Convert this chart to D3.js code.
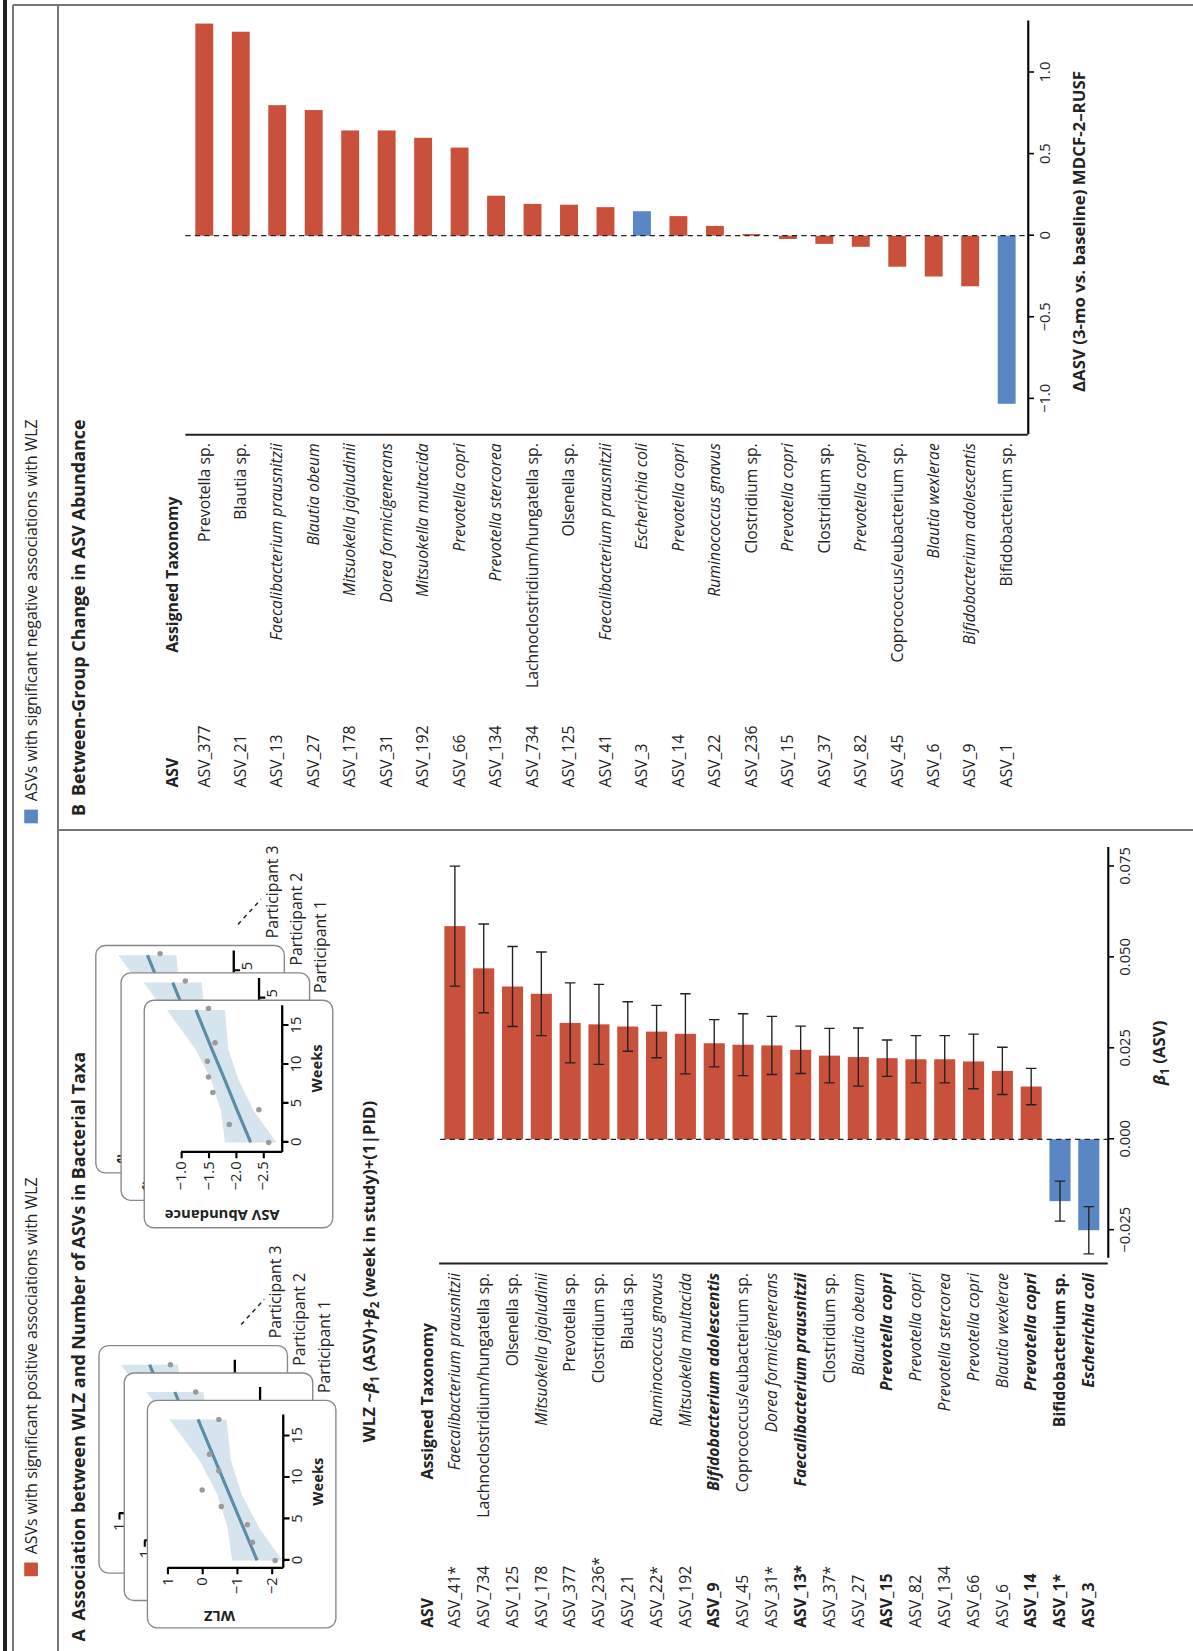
<!DOCTYPE html>
<html>
<head>
<meta charset="utf-8">
<script src="https://cdn.jsdelivr.net/npm/d3@7"></script>
<style>
  body { margin: 0; background: #fff; }
  text { font-family: "Open Sans", "Noto Sans", sans-serif; fill: #222; }
</style>
</head>
<body>
<svg id="fig" width="1193" height="1651"></svg>
<script>
// panel A: beta1 per ASV
const asvA = ["ASV_41*", "ASV_734", "ASV_125", "ASV_178", "ASV_377", "ASV_236*", "ASV_21", "ASV_22*", "ASV_192", "ASV_9", "ASV_45", "ASV_31*", "ASV_13*", "ASV_37*", "ASV_27", "ASV_15", "ASV_82", "ASV_134", "ASV_66", "ASV_6", "ASV_14", "ASV_1*", "ASV_3"]
const taxA = ["Faecalibacterium prausnitzii", "Lachnoclostridium/hungatella sp.", "Olsenella sp.", "Mitsuokella jajaludinii", "Prevotella sp.", "Clostridium sp.", "Blautia sp.", "Ruminococcus gnavus", "Mitsuokella multacida", "Bifidobacterium adolescentis", "Coprococcus/eubacterium sp.", "Dorea formicigenerans", "Faecalibacterium prausnitzii", "Clostridium sp.", "Blautia obeum", "Prevotella copri", "Prevotella copri", "Prevotella stercorea", "Prevotella copri", "Blautia wexlerae", "Prevotella copri", "Bifidobacterium sp.", "Escherichia coli"]
const boldA = ["ASV_9", "ASV_13*", "ASV_15", "ASV_14", "ASV_1*", "ASV_3"]
const betaA = [0.0586, 0.047, 0.042, 0.040, 0.032, 0.0316, 0.031, 0.0296, 0.029, 0.0264, 0.026, 0.0258, 0.0246, 0.023, 0.0226, 0.0223, 0.022, 0.022, 0.0214, 0.0188, 0.0145, -0.017, -0.025]
const errA = [0.0165, 0.0122, 0.011, 0.0115, 0.011, 0.011, 0.0068, 0.0072, 0.011, 0.0065, 0.0085, 0.008, 0.0065, 0.0075, 0.008, 0.005, 0.0065, 0.0065, 0.0075, 0.0065, 0.005, 0.0055, 0.0065]
const ticksA = [-0.025, 0, 0.025, 0.05, 0.075]

// panel B: between-group change
const asvB = ["ASV_377", "ASV_21", "ASV_13", "ASV_27", "ASV_178", "ASV_31", "ASV_192", "ASV_66", "ASV_134", "ASV_734", "ASV_125", "ASV_41", "ASV_3", "ASV_14", "ASV_22", "ASV_236", "ASV_15", "ASV_37", "ASV_82", "ASV_45", "ASV_6", "ASV_9", "ASV_1"]
const taxB = ["Prevotella sp.", "Blautia sp.", "Faecalibacterium prausnitzii", "Blautia obeum", "Mitsuokella jajaludinii", "Dorea formicigenerans", "Mitsuokella multacida", "Prevotella copri", "Prevotella stercorea", "Lachnoclostridium/hungatella sp.", "Olsenella sp.", "Faecalibacterium prausnitzii", "Escherichia coli", "Prevotella copri", "Ruminococcus gnavus", "Clostridium sp.", "Prevotella copri", "Clostridium sp.", "Prevotella copri", "Coprococcus/eubacterium sp.", "Blautia wexlerae", "Bifidobacterium adolescentis", "Bifidobacterium sp."]
const deltaB = [1.30, 1.25, 0.80, 0.77, 0.645, 0.645, 0.60, 0.54, 0.245, 0.195, 0.19, 0.175, 0.15, 0.12, 0.06, 0.01, -0.02, -0.05, -0.068, -0.19, -0.25, -0.31, -1.03]
const negB = ["ASV_3", "ASV_1"]
const ticksB = [-1, -0.5, 0, 0.5, 1]

// inset examples
const wlzWeeks = [17.0, 12.8, 10.8, 8.5, 6.5, 4.3, 2.2, 0]
const wlzVals = [-0.48, -0.21, -0.48, 0.0, -0.55, -1.3, -1.45, -2.1]
const wlzFitWeeks = [0, 4, 8, 12, 17]
const wlzFit = [-1.58, -1.18, -0.78, -0.38, 0.12]
const wlzBand = [0.72, 0.45, 0.35, 0.45, 0.82]
const asvWeeks = [17.2, 12.8, 10.4, 8.4, 6.4, 2.3, 4.2, 0]
const asvVals = [-1.5, -1.62, -1.48, -1.5, -1.58, -1.88, -2.42, -2.6]
const asvFit = [-2.27, -2.03, -1.8, -1.56, -1.27]
const asvBand = [0.47, 0.3, 0.25, 0.3, 0.53]

const RED = "#c9513b", BLUE = "#5b86c4"
const italicWords = ["prausnitzii", "jajaludinii", "gnavus", "multacida", "adolescentis", "formicigenerans", "obeum", "copri", "stercorea", "wexlerae", "coli"]

const svg = d3.select("#fig")

// frame lines (page coordinates)
svg.append("line").attr("x1", 5).attr("x2", 5).attr("y1", 0).attr("y2", 1651).attr("stroke", "#222").attr("stroke-width", 4)
const frame = [[13, 5, 13, 1651], [13, 5, 1193, 5], [58, 5, 58, 1651], [58, 830, 1193, 830]]
frame.forEach(f => svg.append("line").attr("x1", f[0]).attr("y1", f[1]).attr("x2", f[2]).attr("y2", f[3])
  .attr("stroke", "#777").attr("stroke-width", 2))

// everything else drawn in landscape and rotated
const g = svg.append("g").attr("transform", "translate(0,1651) rotate(-90) scale(1.053)")

function taxText(sel, name, bold) {
  const parts = name.split(" ")
  const sp = parts.length > 1 && italicWords.includes(parts[1])
  sel.attr("font-weight", bold ? "bold" : null)
  if (sp) sel.attr("font-style", "italic")
  sel.text(name)
}

// legend
g.append("rect").attr("x", 71).attr("y", 23).attr("width", 13).attr("height", 13).attr("fill", RED)
g.append("text").attr("x", 92).attr("y", 35).attr("font-size", 15).text("ASVs with significant positive associations with WLZ")
g.append("rect").attr("x", 786).attr("y", 23).attr("width", 13).attr("height", 13).attr("fill", BLUE)
g.append("text").attr("x", 807).attr("y", 35).attr("font-size", 15).text("ASVs with significant negative associations with WLZ")

// titles
g.append("text").attr("x", 9).attr("y", 81).attr("font-size", 17).attr("font-weight", "bold").text("A")
g.append("text").attr("x", 29).attr("y", 81).attr("font-size", 17).attr("font-weight", "bold").text("Association between WLZ and Number of ASVs in Bacterial Taxa")
g.append("text").attr("x", 793).attr("y", 81).attr("font-size", 17).attr("font-weight", "bold").text("B")
g.append("text").attr("x", 812).attr("y", 81).attr("font-size", 17).attr("font-weight", "bold").text("Between-Group Change in ASV Abundance")

// ---------- insets ----------
function inset(cx, cy, o) {
  const W = 216, H = 179
  const cards = [[52, -46], [26, -22], [0, 0]]
  cards.forEach((c, k) => {
    const x0 = cx + c[0], y0 = cy + c[1]
    const id = "clip" + o.id + k
    g.append("clipPath").attr("id", id).append("rect").attr("x", x0).attr("y", y0).attr("width", W).attr("height", H).attr("rx", 9)
    g.append("rect").attr("x", x0).attr("y", y0).attr("width", W).attr("height", H).attr("rx", 9)
      .attr("fill", "#fff").attr("stroke", "#888").attr("stroke-width", 1.3)
    const p = g.append("g").attr("clip-path", `url(#${id})`).append("g").attr("transform", `translate(${x0},${y0})`)
    const xs = d3.scaleLinear().domain([0, 15]).range([o.w0, o.w0 + 15 * o.pw])
    const ys = d3.scaleLinear().domain([o.v0, o.v0 - 1]).range([o.y0, o.y0 + o.pv])
    const area = d3.area().x((d, i) => xs(o.fw[i])).y0((d, i) => ys(d - o.band[i])).y1((d, i) => ys(d + o.band[i]))
    p.append("path").attr("d", area(o.fit)).attr("fill", "#d6e4ed")
    p.append("path").attr("d", d3.line().x((d, i) => xs(o.fw[i])).y(d => ys(d))(o.fit)).attr("stroke", "#5b8ea5").attr("stroke-width", 3).attr("fill", "none")
    p.selectAll("circle").data(o.pts).join("circle").attr("cx", d => xs(d[0])).attr("cy", d => ys(d[1])).attr("r", 2.6).attr("fill", "#9a9a9a")
    const ax = p.append("g").attr("transform", `translate(0,${o.axY})`)
      .call(d3.axisBottom(xs).tickValues([0, 5, 10, 15]).tickSize(6).tickSizeOuter(0))
    ax.select(".domain").attr("d", `M${o.axX},0H${xs(17.6)}`).attr("stroke-width", 2.2)
    ax.selectAll("line").attr("stroke-width", 2)
    ax.selectAll("text").attr("font-size", 14).attr("dy", "0.6em")
    p.append("text").attr("x", xs(9.5)).attr("y", o.axY + 38).attr("text-anchor", "middle").attr("font-size", 14).attr("font-weight", "bold").text("Weeks")
    const ay = p.append("g").attr("transform", `translate(${o.axX},0)`)
      .call(d3.axisLeft(ys).tickValues(o.ticks).tickFormat(o.fmt).tickSize(6).tickSizeOuter(0))
    ay.select(".domain").attr("d", `M0,${ys(o.ticks[0])}V${o.axY}`).attr("stroke-width", 2.2)
    ay.selectAll("line").attr("stroke-width", 2)
    ay.selectAll("text").attr("font-size", 14)
    p.append("text").attr("transform", `translate(${o.labX},${(ys(o.ticks[0]) + ys(o.ticks[o.ticks.length - 1])) / 2}) rotate(-90)`)
      .attr("text-anchor", "middle").attr("font-size", 14).attr("font-weight", "bold").text(o.label)
  })
  // participant labels
  ;[["Participant 1", 0], ["Participant 2", 1], ["Participant 3", 2]].forEach(d => {
    g.append("text").attr("x", cx + W + 7 + 26 * d[1]).attr("y", cy + H - 6 - 23 * d[1]).attr("font-size", 15).text(d[0])
  })
  g.append("line").attr("x1", cx + W + 72).attr("y1", cy + H - 90).attr("x2", cx + W + 96).attr("y2", cy + H - 68)
    .attr("stroke", "#222").attr("stroke-width", 1.4).attr("stroke-dasharray", "4,4")
}

inset(22, 140, {
  id: "w", w0: 64, pw: 7.88, axX: 57, axY: 129, v0: 1, y0: 19, pv: 33, labX: 16,
  ticks: [1, 0, -1, -2], fmt: d => d3.format("d")(d), label: "WLZ",
  fw: wlzFitWeeks, fit: wlzFit, band: wlzBand, pts: wlzWeeks.map((w, i) => [w, wlzVals[i]])
})
inset(402, 137, {
  id: "a", w0: 81, pw: 7.4, axX: 72, axY: 131, v0: -1, y0: 35, pv: 52, labX: 17,
  ticks: [-1, -1.5, -2, -2.5], fmt: d3.format(".1f"), label: "ASV Abundance",
  fw: wlzFitWeeks, fit: asvFit, band: asvBand, pts: asvWeeks.map((w, i) => [w, asvVals[i]])
})

// formula
const f = g.append("text").attr("x", 198).attr("y", 356).attr("font-size", 16).attr("font-weight", "bold")
f.append("tspan").text("WLZ ~")
f.append("tspan").attr("font-style", "italic").text("β")
f.append("tspan").attr("font-size", 11).attr("dy", 4).text("1")
f.append("tspan").attr("dy", -4).text(" (ASV)+")
f.append("tspan").attr("font-style", "italic").text("β")
f.append("tspan").attr("font-size", 11).attr("dy", 4).text("2")
f.append("tspan").attr("dy", -4).text(" (week in study)+(1|PID)")

// ---------- panel A chart ----------
const xA = d3.scaleLinear().domain([-0.0327, 0.0802]).range([373, 763])
const yA = d3.scalePoint().domain(asvA).range([432, 1034])
g.append("text").attr("x", 22).attr("y", 411).attr("font-size", 15).attr("font-weight", "bold").text("ASV")
g.append("text").attr("x", 163).attr("y", 411).attr("font-size", 15).attr("font-weight", "bold").text("Assigned Taxonomy")
asvA.forEach((a, i) => {
  const b = boldA.includes(a)
  g.append("text").attr("x", 22).attr("y", yA(a) + 5).attr("font-size", 15).attr("font-weight", b ? "bold" : null).text(a)
  g.append("text").attr("x", 359).attr("y", yA(a) + 5).attr("font-size", 15).attr("text-anchor", "end").call(s => taxText(s, taxA[i], b))
})
g.selectAll(".barA").data(betaA).join("rect").attr("class", "barA")
  .attr("x", d => xA(Math.min(0, d))).attr("width", d => Math.abs(xA(d) - xA(0)))
  .attr("y", (d, i) => yA(asvA[i]) - 10).attr("height", 20).attr("fill", d => d < 0 ? BLUE : RED)
betaA.forEach((d, i) => {
  const y = yA(asvA[i]), lo = xA(d - errA[i]), hi = xA(d + errA[i])
  g.append("path").attr("d", `M${lo},${y}H${hi}M${lo},${y - 5}V${y + 5}M${hi},${y - 5}V${y + 5}`).attr("stroke", "#222").attr("stroke-width", 1.3).attr("fill", "none")
})
g.append("line").attr("x1", xA(0)).attr("x2", xA(0)).attr("y1", 418).attr("y2", 1052).attr("stroke", "#222").attr("stroke-width", 1.2).attr("stroke-dasharray", "5,4")
g.append("line").attr("x1", 368).attr("x2", 368).attr("y1", 417).attr("y2", 1052).attr("stroke", "#222").attr("stroke-width", 2)
const axA = g.append("g").attr("transform", "translate(0,1052)")
  .call(d3.axisBottom(xA).tickValues(ticksA).tickFormat(d3.format(".3f")).tickSize(6).tickSizeOuter(0))
axA.select(".domain").attr("stroke-width", 2)
axA.selectAll("line").attr("stroke-width", 1.5)
axA.selectAll("text").attr("font-size", 14).attr("dy", "0.9em")
const lA = g.append("text").attr("x", 568).attr("y", 1106).attr("text-anchor", "middle").attr("font-size", 16).attr("font-weight", "bold")
lA.append("tspan").attr("font-style", "italic").text("β")
lA.append("tspan").attr("font-size", 11).attr("dy", 4).text("1")
lA.append("tspan").attr("dy", -4).text(" (ASV)")

// ---------- panel B chart ----------
const xB = d3.scaleLinear().domain([-1.22, 1.316]).range([1155, 1548])
const yB = d3.scalePoint().domain(asvB).range([194, 956])
g.append("text").attr("x", 820).attr("y", 169).attr("font-size", 15).attr("font-weight", "bold").text("ASV")
g.append("text").attr("x", 948).attr("y", 169).attr("font-size", 15).attr("font-weight", "bold").text("Assigned Taxonomy")
asvB.forEach((a, i) => {
  g.append("text").attr("x", 820).attr("y", yB(a) + 5).attr("font-size", 15).text(a)
  g.append("text").attr("x", 1147).attr("y", yB(a) + 5).attr("font-size", 15).attr("text-anchor", "end").call(s => taxText(s, taxB[i], false))
})
g.selectAll(".barB").data(deltaB).join("rect").attr("class", "barB")
  .attr("x", d => xB(Math.min(0, d))).attr("width", d => Math.abs(xB(d) - xB(0)))
  .attr("y", (d, i) => yB(asvB[i]) - 8.5).attr("height", 17)
  .attr("fill", (d, i) => negB.includes(asvB[i]) ? BLUE : RED)
g.append("line").attr("x1", xB(0)).attr("x2", xB(0)).attr("y1", 176).attr("y2", 976).attr("stroke", "#222").attr("stroke-width", 1.2).attr("stroke-dasharray", "5,4")
g.append("line").attr("x1", 1155).attr("x2", 1155).attr("y1", 176).attr("y2", 976).attr("stroke", "#222").attr("stroke-width", 2)
const axB = g.append("g").attr("transform", "translate(0,976)")
  .call(d3.axisBottom(xB).tickValues(ticksB).tickFormat(d => d === 0 ? "0" : d3.format(".1f")(d)).tickSize(6).tickSizeOuter(0))
axB.select(".domain").attr("stroke-width", 2)
axB.selectAll("line").attr("stroke-width", 1.5)
axB.selectAll("text").attr("font-size", 14).attr("dy", "0.9em")
g.append("text").attr("x", 1348).attr("y", 1030).attr("text-anchor", "middle").attr("font-size", 16).attr("font-weight", "bold")
  .text("ΔASV (3-mo vs. baseline) MDCF-2–RUSF")
</script>
</body>
</html>
